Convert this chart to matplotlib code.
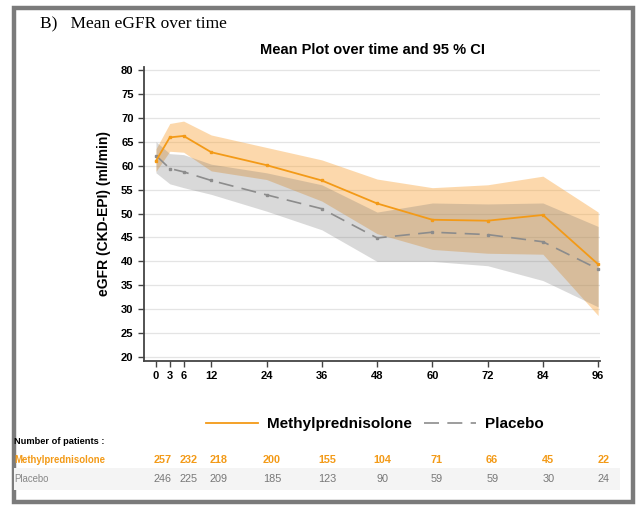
import matplotlib.pyplot as plt
from matplotlib.lines import Line2D
from matplotlib.patches import Rectangle
from matplotlib.transforms import blended_transform_factory

plt.rcParams['font.family'] = ['Liberation Sans', 'DejaVu Sans']

# visit months
months = [0, 3, 6, 12, 24, 36, 48, 60, 72, 84, 96]

# methylprednisolone: mean eGFR and 95 % CI
mp_mean = [61.0, 65.9, 66.2, 62.8, 60.1, 56.9, 52.1, 48.7, 48.5, 49.7, 39.4]
mp_lo = [58.8, 63.0, 62.8, 58.9, 57.1, 52.6, 45.8, 42.5, 41.7, 41.5, 28.7]
mp_hi = [63.5, 68.8, 69.3, 66.4, 63.8, 61.2, 57.2, 55.4, 56.0, 57.8, 50.3]

# placebo: mean eGFR and 95 % CI
pla_mean = [62.1, 59.4, 58.7, 56.9, 53.9, 51.0, 44.9, 46.1, 45.6, 44.1, 38.4]
pla_lo = [58.5, 56.2, 55.4, 54.0, 50.5, 46.6, 40.0, 40.0, 39.1, 36.0, 30.5]
pla_hi = [65.0, 62.5, 62.3, 60.3, 58.5, 56.0, 50.3, 52.2, 52.0, 52.2, 47.3]

# number of patients at each visit
n_mp = [257, 232, 218, 200, 155, 104, 71, 66, 45, 22]
n_pla = [246, 225, 209, 185, 123, 90, 59, 59, 30, 24]
n_xpos = [1.4, 7.0, 13.5, 25.2, 37.2, 49.2, 61.0, 73.0, 85.2, 97.2]

orange = '#f39a17'
grey = '#8c8c8c'

fig = plt.figure(figsize=(6.36, 5.07), dpi=100)

# outer frame
fig.patches.append(Rectangle((14 / 636, 1 - 502 / 507), 619 / 636, 494 / 507,
                             transform=fig.transFigure, fill=False,
                             edgecolor='#7b7b7b', lw=3.2))

fig.text(40 / 636, 1 - 24 / 507, 'B)   Mean eGFR over time', family='Liberation Serif',
         fontsize=12.5, va='center', ha='left')

ax = fig.add_axes([144 / 636, 1 - 361 / 507, 456 / 636, 294 / 507])
ax.set_title('Mean Plot over time and 95 % CI', fontsize=10.5, fontweight='bold', pad=9)

# orange band first, translucent grey on top gives the tan overlap
ax.fill_between(months, mp_lo, mp_hi, color='#f9a43a', alpha=0.42, lw=0)
ax.fill_between(months, pla_lo, pla_hi, color='#6e6e6e', alpha=0.26, lw=0)
ax.plot(months, pla_mean, color=grey, lw=1.2, dashes=(9, 5), marker='s', ms=2.0)
ax.plot(months, mp_mean, color=orange, lw=1.3, marker='s', ms=2.0)

ax.set_xlim(-2.6, 96.4)
ax.set_ylim(19.2, 80.6)
ax.set_xticks(months)
ax.set_yticks(range(20, 81, 5))
ax.grid(axis='y', color='#e4e4e4', lw=0.9)
ax.set_axisbelow(True)
for s in ['top', 'right']:
    ax.spines[s].set_visible(False)
for s in ['left', 'bottom']:
    ax.spines[s].set_color('#444444')
    ax.spines[s].set_linewidth(1.3)
ax.tick_params(length=4, width=1, color='#444444', labelsize=8)
for lab in ax.get_xticklabels() + ax.get_yticklabels():
    lab.set_fontweight('bold')
ax.set_ylabel('eGFR (CKD-EPI) (ml/min)', fontsize=10, fontweight='bold', labelpad=7)

handles = [Line2D([], [], color=orange, lw=1.3),
           Line2D([], [], color=grey, lw=1.2, dashes=(9, 5))]
fig.legend(handles, ['Methylprednisolone', 'Placebo'], loc='center',
           bbox_to_anchor=(375 / 636, 1 - 424 / 507), ncol=2, frameon=False,
           prop={'size': 11, 'weight': 'bold'}, handlelength=3.4, columnspacing=0.8,
           handletextpad=0.6)

# patient counts table
fig.patches.append(Rectangle((14 / 636, 1 - 490 / 507), 606 / 636, 22 / 507,
                             transform=fig.transFigure, color='#f4f4f4', lw=0))
fig.text(14 / 636, 1 - 441 / 507, 'Number of patients :', fontsize=6.7, fontweight='bold',
         va='center')
fig.text(14 / 636, 1 - 460 / 507, 'Methylprednisolone', fontsize=6.9, fontweight='bold',
         color=orange, va='center')
fig.text(14 / 636, 1 - 479 / 507, 'Placebo', fontsize=6.9, color='#888888', va='center')
tr = blended_transform_factory(ax.transData, fig.transFigure)
for x, a, b in zip(n_xpos, n_mp, n_pla):
    fig.text(x, 1 - 460 / 507, str(a), transform=tr, ha='center', va='center',
             fontsize=7.8, fontweight='bold', color=orange)
    fig.text(x, 1 - 479 / 507, str(b), transform=tr, ha='center', va='center',
             fontsize=7.8, color='#777777')

fig.savefig('out.png', dpi=100)
